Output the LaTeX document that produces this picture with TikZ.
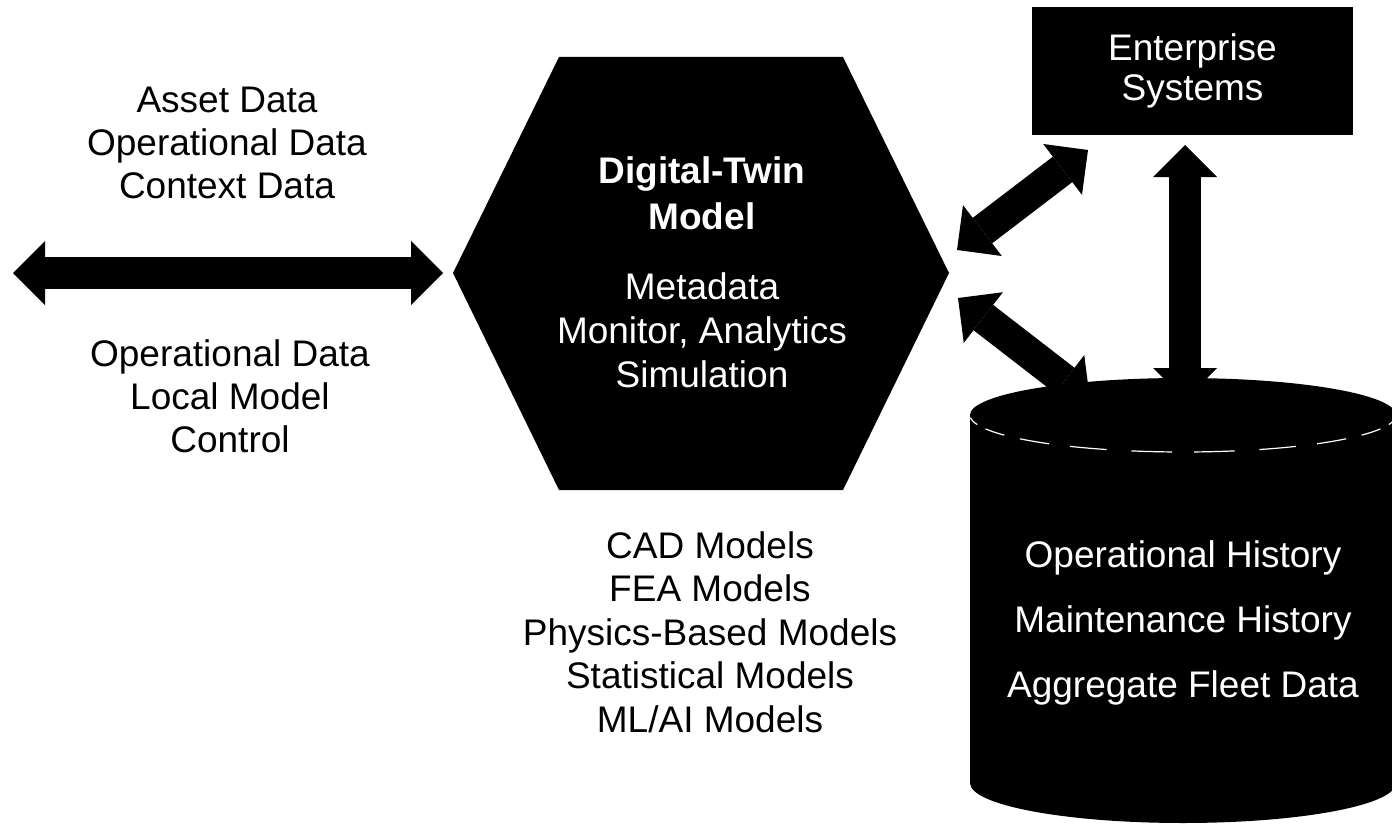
\documentclass[tikz,border=0pt]{standalone}
\usepackage{fontspec}
\setmainfont{Liberation Sans}
\usetikzlibrary{arrows.meta}
\tikzset{
  fathead/.tip={Triangle[length=16pt,width=32pt,line width=0pt]},
  fatarrow/.style={line width=16pt, fathead-fathead},
  lbl/.style={align=center, inner sep=0pt, font=\fontsize{18.5pt}{21.5pt}\selectfont},
  wlbl/.style={lbl, text=white},
}
\begin{document}
\begin{tikzpicture}[x=0.5pt,y=-0.5pt]
\useasboundingbox (0,0) rectangle (1392,824);
\clip (0,0) rectangle (1392,824);
% hexagon
\coordinate (hA) at (559,57);
\coordinate (hB) at (843,57);
\coordinate (hC) at (949,273);
\coordinate (hD) at (843,490);
\coordinate (hE) at (559,490);
\coordinate (hF) at (453,273);
\fill (hA) -- (hB) -- (hC) -- (hD) -- (hE) -- (hF) -- cycle;
\node[wlbl, font=\bfseries\fontsize{18.5pt}{23pt}\selectfont] (title) at (702,193.75) {Digital-Twin\\Model};
\node[wlbl, font=\fontsize{18.5pt}{22pt}\selectfont] (body) at (702,330.75) {Metadata\\Monitor, Analytics\\Simulation};
% side texts
\node[lbl] (inTxt) at (227,142.75) {Asset Data\\Operational Data\\Context Data};
\node[lbl] (outTxt) at (230,396.3) {Operational Data\\Local Model\\Control};
\node[lbl, font=\fontsize{18.5pt}{21.75pt}\selectfont] (models) at (710,632) {CAD Models\\FEA Models\\Physics-Based Models\\Statistical Models\\ML/AI Models};
% enterprise
\node[fill=black, text=white, minimum width=160.5pt, minimum height=64pt, inner sep=0pt, align=center, font=\fontsize{18.5pt}{20pt}\selectfont] (ent) at (1192.5,71) {Enterprise\\Systems};
% arrow end points
\coordinate (edge) at (13,273);
\coordinate (hexW) at ([xshift=-5pt]hF);
\coordinate (hexNE) at (957,250);
\coordinate (entSW) at (1088,150);
\coordinate (hexSE) at (958,298);
\coordinate (dbNW) at (1090,400);
\coordinate (entS) at (1185,145);
\coordinate (dbN) at (1185,400);
\draw[fatarrow] (edge) -- (hexW);
\draw[fatarrow] (hexNE) -- (entSW);
\draw[fatarrow] (hexSE) -- (dbNW);
\draw[fatarrow] (dbN) -- (entS);
% cylinder
\fill (970,415) rectangle (1396,783);
\fill (1183,415) ellipse [x radius=213, y radius=37];
\fill (1183,783) ellipse [x radius=213, y radius=40];
\foreach \a [evaluate=\a as \b using \a+11] in {4,22,40,58,76,93,111,129,147,165}
  \draw[white, line width=0.6pt] plot[domain=\a:\b, samples=10, variable=\t] ({1183+213*cos(\t)},{415+37*sin(\t)});
\node[wlbl, font=\fontsize{18.5pt}{32.5pt}\selectfont] (db) at (1183,623.2) {Operational History\\Maintenance History\\Aggregate Fleet Data};
\end{tikzpicture}
\end{document}
